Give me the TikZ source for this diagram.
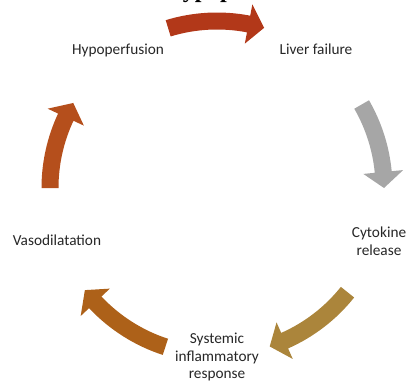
\documentclass[tikz,border=0pt]{standalone}
\usepackage{fontspec}
\setmainfont{Carlito}
\newfontfamily\titlefont{Liberation Serif}
\definecolor{txt}{rgb}{0.15,0.15,0.15}
\definecolor{arrA}{rgb}{0.70,0.22,0.10}
\definecolor{arrB}{rgb}{0.65,0.65,0.65}
\definecolor{arrC}{rgb}{0.67,0.52,0.23}
\definecolor{arrD}{rgb}{0.68,0.38,0.10}
\definecolor{arrE}{rgb}{0.71,0.31,0.11}
\newcommand{\cyclearrow}[3]{%
  \pgfmathsetmacro{\hb}{#2+5.5}%
  \fill[#3] (#1:158.5pt) arc[start angle=#1, end angle=\hb, radius=158.5pt]
    -- (\hb:147pt) -- (#2:167pt) -- (\hb:187pt) -- (\hb:175.5pt)
    arc[start angle=\hb, end angle=#1, radius=175.5pt] -- cycle;}
\tikzset{lbl/.style={text=txt, inner sep=0pt, align=center,
  font=\fontsize{15.3}{17.5}\selectfont}}
\begin{document}
\begin{tikzpicture}
\useasboundingbox (0,0) rectangle (406pt,381pt);
\clip (0,0) rectangle (406pt,381pt);
\node[anchor=base west, inner sep=0pt, font=\titlefont\bfseries\fontsize{24}{28}\selectfont] (title) at (164pt,383pt) {Hypoperfusion};
\begin{scope}[shift={(217pt,193pt)}]
  \cyclearrow{107}{73.6}{arrA}
  \cyclearrow{30}{0}{arrB}
  \cyclearrow{-38.6}{-71.6}{arrC}
  \cyclearrow{-108}{-142.3}{arrD}
  \cyclearrow{180}{149.4}{arrE}
\end{scope}
\node[lbl, anchor=base] (hypo) at (118pt,326pt) {Hypoperfusion};
\node[lbl, anchor=base] (liver) at (316pt,326pt) {Liver failure};
\node[lbl, anchor=base] (vaso) at (57pt,136pt) {Vasodilatation};
\node[lbl, anchor=center] (cyto) at (379pt,140pt) {Cytokine\\release};
\node[lbl, anchor=center] (sirs) at (217pt,24pt) {Systemic\\inflammatory\\response};
\end{tikzpicture}
\end{document}
